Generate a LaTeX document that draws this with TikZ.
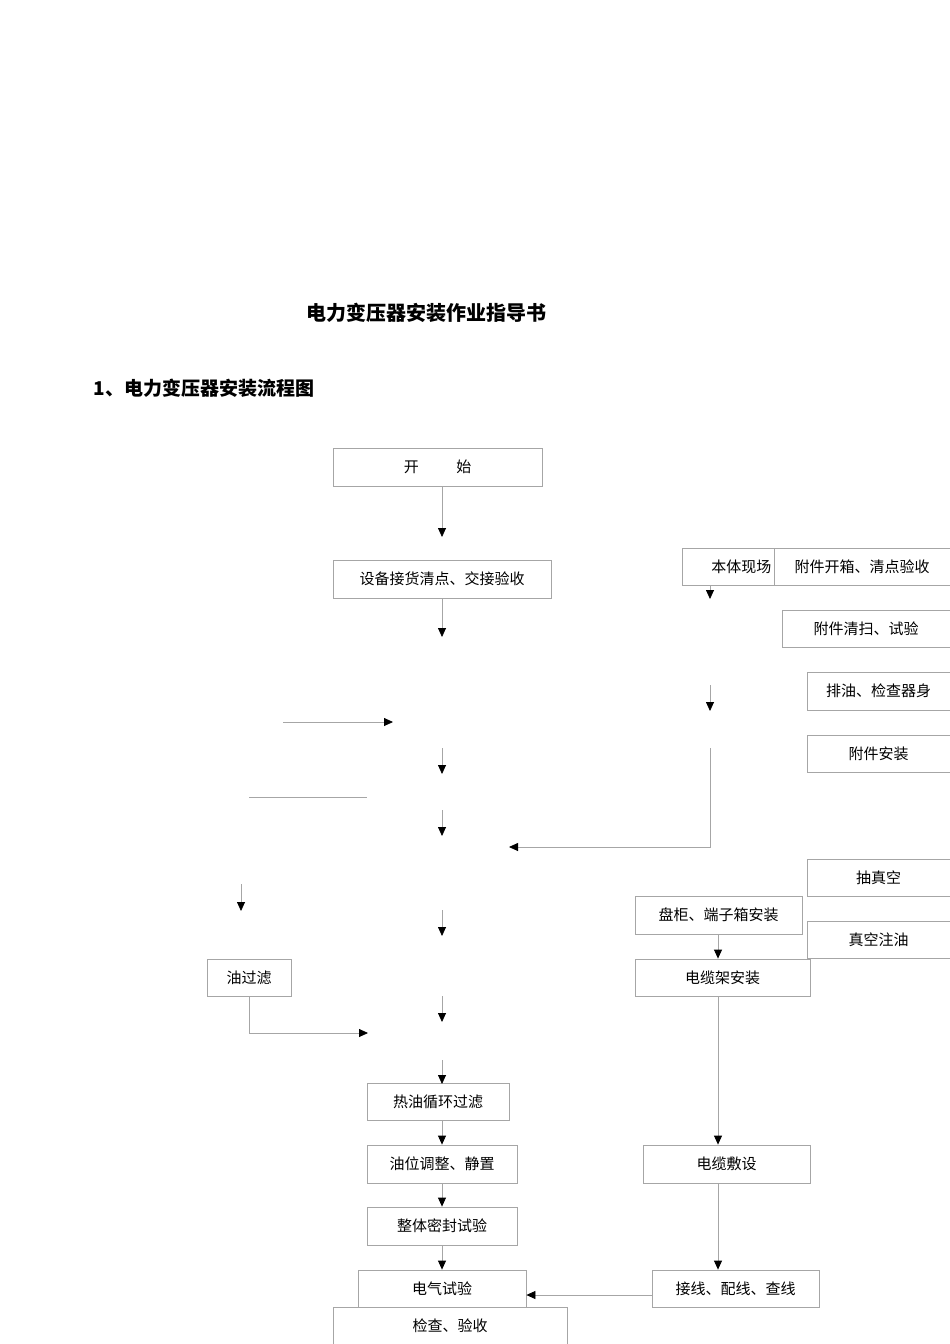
\documentclass[tikz,border=0pt]{standalone}
\usepackage{fontspec}
\setmainfont{Noto Sans CJK SC}
\usetikzlibrary{arrows.meta}
\begin{document}
\begin{tikzpicture}[x=1pt,y=-1pt,
  bx/.style={draw=black!35,line width=0.8pt,fill=white,inner sep=0pt,font=\fontsize{15}{15}\selectfont},
  ar/.style={draw=black!35,line width=0.8pt,-{Triangle[length=9pt,width=8pt,color=black]}},
  ln/.style={draw=black!35,line width=0.8pt}]
\useasboundingbox (0,0) rectangle (950,1344);
\newcommand{\bxx}[6]{\node[bx,minimum width=#3-#2,minimum height=#5-#4] (#1) at ({(#2+#3)/2},{(#4+#5)/2}) {#6};}
\node[font=\fontsize{20}{20}\selectfont\bfseries] (t1) at (426,313) {电力变压器安装作业指导书};
\node[font=\fontsize{19}{19}\selectfont\bfseries,anchor=west] (t2) at (90,388) {1、电力变压器安装流程图};
\bxx{start}{333}{542}{448}{486}{开\hspace{2.5em}始}
\bxx{recv}{333}{551}{560}{598}{设备接货清点、交接验收}
\node[bx,minimum width=120,minimum height=37,anchor=north west,text width=110,align=left] (body) at (682,548) {\hspace{24pt}本体现场};
\bxx{fj1}{774}{950}{548}{585}{附件开箱、清点验收}
\bxx{fj2}{782}{950}{610}{647}{附件清扫、试验}
\bxx{pai}{807}{950}{672}{710}{排油、检查器身}
\bxx{fj3}{807}{950}{735}{772}{附件安装}
\bxx{czk}{807}{950}{859}{896}{抽真空}
\bxx{zkzy}{807}{950}{921}{958}{真空注油}
\bxx{pg}{635}{802}{896}{934}{盘柜、端子箱安装}
\bxx{dlj}{635}{810}{959}{996}{电缆架安装}
\bxx{ygl}{207}{291}{959}{996}{油过滤}
\bxx{rxh}{367}{509}{1083}{1120}{热油循环过滤}
\bxx{ywtz}{367}{517}{1145}{1183}{油位调整、静置}
\bxx{mf}{367}{517}{1207}{1245}{整体密封试验}
\bxx{jc}{333}{567}{1307}{1344}{检查、验收}
\bxx{dq}{358}{526}{1270}{1307}{电气试验}
\bxx{dlfs}{643}{810}{1145}{1183}{电缆敷设}
\bxx{jx}{652}{819}{1270}{1307}{接线、配线、查线}
% arrows
\draw[ar] (start.south -| 442,0) -- (442,537);
\draw[ar] (recv.south -| 442,0) -- (442,637);
\foreach \a/\b in {748/774,810/836,910/936,996/1022,1060/1084} \draw[ar] (442,\a) -- (442,\b);
\draw[ar] (rxh.south -| 442,0) -- (ywtz.north -| 442,0);
\draw[ar] (ywtz.south -| 442,0) -- (mf.north -| 442,0);
\draw[ar] (mf.south -| 442,0) -- (dq.north -| 442,0);
\draw[ar] (710,585) -- (710,599);
\draw[ar] (710,685) -- (710,711);
\draw[ar] (283,722) -- (393,722);
\draw[ln] (249,797) -- (367,797);
\coordinate (c1) at (710,748);
\draw[ar] (c1) -- (710,847) -- (509,847);
\draw[ar] (241,884) -- (241,911);
\draw[ar] (ygl.south) -- (249,1033) -- (368,1033);
\draw[ar] (pg.south -| 718,0) -- (dlj.north -| 718,0);
\draw[ar] (dlj.south -| 718,0) -- (dlfs.north -| 718,0);
\draw[ar] (dlfs.south -| 718,0) -- (jx.north -| 718,0);
\draw[ar] (jx.west |- 0,1295) -- (dq.east |- 0,1295);
\end{tikzpicture}
\end{document}
